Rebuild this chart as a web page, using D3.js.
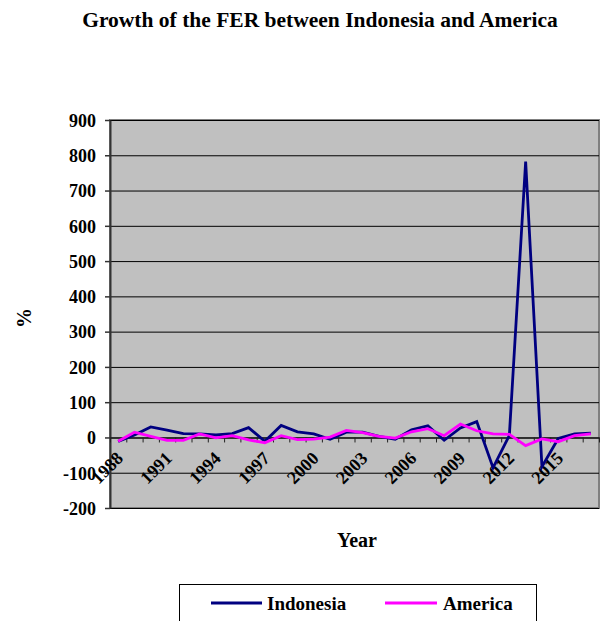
<!DOCTYPE html>
<html>
<head>
<meta charset="utf-8">
<script src="https://cdn.jsdelivr.net/npm/d3@7/dist/d3.min.js"></script>
<style>
  html, body { margin: 0; padding: 0; background: #fff; }
  svg { display: block; }
  text { font-family: "Liberation Serif", "Times New Roman", serif !important; font-weight: bold; fill: #000; }
</style>
</head>
<body>
<svg id="chart" width="608" height="621"></svg>
<script>
// Annual growth of the foreign exchange rate (%)
const years = [1988, 1989, 1990, 1991, 1992, 1993, 1994, 1995, 1996, 1997,
               1998, 1999, 2000, 2001, 2002, 2003, 2004, 2005, 2006, 2007,
               2008, 2009, 2010, 2011, 2012, 2013, 2014, 2015, 2016, 2017];
const indonesia = [-11, 7, 30, 21, 11, 10, 7, 11, 28, -11,
                   34, 16, 10, -5, 15, 15, 3, -5, 22, 33,
                   -8, 27, 45, -86, 6, 782, -83, -3, 10, 12];
const america = [-11, 15, 3, -8, -8, 10, -1, 5, -7, -15,
                 5, -6, -5, 1, 20, 14, 3, -2, 16, 25,
                 5, 38, 19, 10, 9, -23, -4, -12, 5, 10];
const yTicks = [-200, -100, 0, 100, 200, 300, 400, 500, 600, 700, 800, 900];
const xLabelYears = [1988, 1991, 1994, 1997, 2000, 2003, 2006, 2009, 2012, 2015];
const seriesNames = ["Indonesia", "America"];
const seriesColors = ["#000080", "#FF00FF"];

const svg = d3.select("#chart");
const plot = { left: 110, right: 599, top: 120, bottom: 508 };

const x = d3.scaleBand().domain(years).range([plot.left, plot.right]).padding(0);
const xEdge = d3.scaleLinear().domain([0, years.length]).range([plot.left, plot.right]);
const y = d3.scaleLinear().domain([-200, 900]).range([plot.bottom, plot.top]);
const cx = d => x(d) + x.bandwidth() / 2;

// plot area
svg.append("rect")
  .attr("x", plot.left).attr("y", plot.top)
  .attr("width", plot.right - plot.left).attr("height", plot.bottom - plot.top)
  .attr("fill", "#C0C0C0").attr("stroke", "#808080").attr("stroke-width", 2);

// horizontal gridlines
svg.append("g")
  .attr("transform", `translate(${plot.left},0)`)
  .call(d3.axisLeft(y).tickValues(yTicks).tickSize(-(plot.right - plot.left)).tickFormat(""))
  .call(g => g.select(".domain").remove())
  .call(g => g.selectAll("line").attr("stroke", "#000").attr("stroke-width", 1));

// y axis (plain hyphen for negatives)
const yAxis = svg.append("g")
  .attr("transform", `translate(${plot.left},0)`)
  .call(d3.axisLeft(y).tickValues(yTicks).tickSize(5).tickPadding(9).tickSizeOuter(0)
    .tickFormat(d => String(d)));
yAxis.attr("font-family", null).attr("font-size", null);
yAxis.select(".domain").attr("stroke", "#333").attr("stroke-width", 2);
yAxis.selectAll("line").attr("stroke", "#333").attr("stroke-width", 1.5);
yAxis.selectAll("text").style("font-size", "18px").attr("dy", "0.35em");

// x axis at zero: tick marks at category boundaries
const xAxis = svg.append("g")
  .attr("transform", `translate(0,${y(0)})`)
  .call(d3.axisBottom(xEdge).tickValues(d3.range(0, years.length + 1)).tickSize(5).tickFormat("").tickSizeOuter(0));
xAxis.select(".domain").attr("stroke", "#222").attr("stroke-width", 1.5);
xAxis.selectAll("line").attr("stroke", "#222").attr("stroke-width", 1);

// rotated year labels
svg.append("g")
  .selectAll("text")
  .data(xLabelYears)
  .join("text")
  .attr("transform", d => `translate(${cx(d) + 6},${y(0) + 22}) rotate(-45)`)
  .attr("text-anchor", "end")
  .style("font-size", "18px")
  .text(d => d);

// series lines
const seriesData = [indonesia, america];
const line = d3.line().x((d, i) => cx(years[i])).y(d => y(d));
seriesData.forEach((vals, k) => {
  svg.append("path")
    .datum(vals)
    .attr("d", line)
    .attr("fill", "none")
    .attr("stroke", seriesColors[k])
    .attr("stroke-width", 2.8)
    .attr("stroke-linejoin", "miter");
});

// title and axis titles
svg.append("text")
  .attr("x", 320).attr("y", 27)
  .attr("text-anchor", "middle")
  .style("font-size", "21.5px")
  .text("Growth of the FER between Indonesia and America");

svg.append("text")
  .attr("x", 357).attr("y", 547)
  .attr("text-anchor", "middle")
  .style("font-size", "20px")
  .text("Year");

svg.append("text")
  .attr("transform", `translate(31,318) rotate(-90)`)
  .attr("text-anchor", "middle")
  .style("font-size", "20px")
  .text("%");

// legend
const legend = svg.append("g");
legend.append("rect")
  .attr("x", 179.5).attr("y", 584.5)
  .attr("width", 357).attr("height", 60)
  .attr("fill", "#fff").attr("stroke", "#000").attr("stroke-width", 1);
const legendItems = [
  { name: seriesNames[0], color: seriesColors[0], x0: 211, x1: 262, tx: 267 },
  { name: seriesNames[1], color: seriesColors[1], x0: 385, x1: 437, tx: 443 }
];
legendItems.forEach(it => {
  legend.append("line")
    .attr("x1", it.x0).attr("x2", it.x1)
    .attr("y1", 603).attr("y2", 603)
    .attr("stroke", it.color).attr("stroke-width", 2.8);
  legend.append("text")
    .attr("x", it.tx).attr("y", 609.5)
    .style("font-size", "19px")
    .text(it.name);
});
</script>
</body>
</html>
